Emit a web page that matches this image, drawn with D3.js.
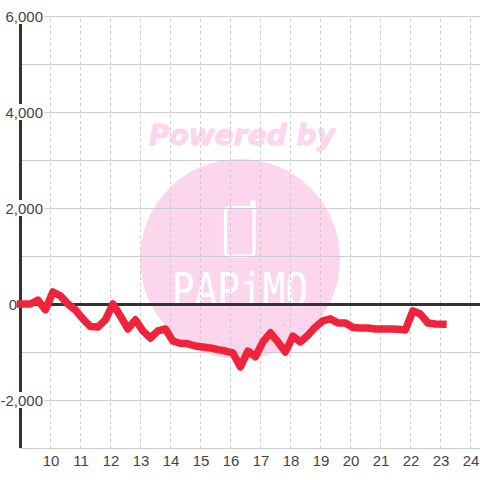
<!DOCTYPE html>
<html><head><meta charset="utf-8">
<script src="https://cdn.jsdelivr.net/npm/d3@7/dist/d3.min.js"></script>
<style>html,body{margin:0;padding:0;background:#fff}svg{display:block}</style>
</head><body><svg id="c" width="480" height="480"></svg>
<script>
const xTicks = [10,11,12,13,14,15,16,17,18,19,20,21,22,23,24];
const yTicks = [-3000,-2000,-1000,0,1000,2000,3000,4000,5000,6000];
const yLabelled = [-2000,0,2000,4000,6000];
const hours = [9.00,9.33,9.58,9.83,10.08,10.33,10.58,10.83,11.08,11.33,11.58,11.83,12.08,12.33,12.58,12.83,13.08,13.33,13.58,13.83,14.08,14.33,14.58,14.83,15.08,15.33,15.58,15.83,16.08,16.33,16.58,16.83,17.08,17.33,17.58,17.83,18.08,18.33,18.58,18.83,19.08,19.33,19.58,19.83,20.08,20.33,20.58,20.83,21.08,21.33,21.58,21.83,22.08,22.33,22.58,22.83,23.08];
const values = [0,0,80,-120,250,170,0,-125,-310,-470,-480,-330,0,-250,-520,-330,-560,-710,-560,-520,-770,-820,-830,-875,-895,-915,-950,-980,-1020,-1310,-980,-1100,-790,-600,-790,-1000,-670,-790,-650,-480,-350,-310,-395,-395,-490,-500,-500,-520,-520,-520,-525,-540,-145,-210,-395,-415,-420];
const watermarkTop = "Powered by";
const watermarkBrand = "PAPiMO";

const svg = d3.select("#c");
const x = d3.scaleLinear().domain([9,25]).range([20.5,500.5]);
const y = d3.scaleLinear().domain([-3000,6000]).range([448,16]);
const FONT = "'Liberation Sans', Arial, sans-serif";

// watermark
const wm = svg.append("g");
wm.append("circle").attr("cx",240).attr("cy",259).attr("r",100).attr("fill","#fbd6ec");
wm.append("text").attr("x",242).attr("y",145).attr("text-anchor","middle")
  .attr("font-family","'DejaVu Sans'").attr("font-weight","bold").attr("font-style","italic")
  .attr("font-size",28).attr("textLength",186).attr("lengthAdjust","spacingAndGlyphs")
  .attr("fill","#fbd6ec").attr("stroke","#fbd6ec").attr("stroke-width",1).text(watermarkTop);
wm.append("path").attr("fill","none").attr("stroke","#fff").attr("stroke-width",3.2)
  .attr("stroke-linejoin","round").attr("stroke-linecap","round")
  .attr("d","M229 207.5 H254 V252 Q254 256 250 256 H230 Q225.5 256 225.5 252 V212 Q225.5 207.5 229 207.5 M254 207.5 V201.5 Q254 200.5 252.5 201.5 L251.5 204");
wm.append("text").attr("x",172).attr("y",306)
  .attr("font-family","'DejaVu Sans Mono'")
  .attr("font-size",46).attr("textLength",136).attr("lengthAdjust","spacingAndGlyphs")
  .attr("fill","#fff").text(watermarkBrand);

// grid
const grid = svg.append("g");
grid.append("g").attr("transform","translate(0,448)")
  .call(d3.axisBottom(x).offset(0).tickValues(xTicks).tickSize(-432).tickFormat(""))
  .call(g=>g.select(".domain").remove())
  .call(g=>g.selectAll("line").attr("stroke","#ccc").attr("stroke-dasharray","3,3"));
grid.append("g").attr("transform","translate(20.5,0)")
  .call(d3.axisRight(y).tickValues(yTicks.filter(d=>d!==0)).tickSize(460).tickFormat(""))
  .call(g=>g.select(".domain").remove())
  .call(g=>g.selectAll("line").attr("stroke","#ccc").attr("stroke-width",1));

// axes lines
svg.append("line").attr("x1",x(9)).attr("x2",x(9)).attr("y1",y(6000)).attr("y2",y(-3000))
  .attr("stroke","#333").attr("stroke-width",3);
svg.append("line").attr("x1",x(9)).attr("x2",480).attr("y1",y(0)+0.5).attr("y2",y(0)+0.5)
  .attr("stroke","#333").attr("stroke-width",3);

// y labels with white backing
const fmt = d3.format(",");
const lab = svg.append("g").attr("font-family",FONT).attr("font-size",15).attr("fill","#444");
yLabelled.forEach(v=>{
  const right = v===0 ? 17 : 43;
  if(v!==0){
    lab.append("rect").attr("x",v<0?0:4).attr("y",y(v)-8).attr("width",right+2-(v<0?0:4)).attr("height",16).attr("fill","#fff");
  }
  lab.append("text").attr("x",right).attr("y",y(v)+5.5).attr("text-anchor","end").text(fmt(v).replace("−","-"));
});

// series
svg.append("path").datum(values.map((v,i)=>[hours[i],v]))
  .attr("fill","none").attr("stroke","#f0233c").attr("stroke-width",7.5)
  .attr("stroke-linejoin","round").attr("stroke-linecap","square")
  .attr("d",d3.line().x(d=>x(d[0])).y(d=>y(d[1])));

// x labels
svg.append("g").attr("font-family",FONT).attr("font-size",15).attr("fill","#444")
  .selectAll("text").data(xTicks).join("text")
  .attr("x",d=>x(d)+0.5).attr("y",466).attr("text-anchor","middle").text(d=>d);
</script></body></html>
